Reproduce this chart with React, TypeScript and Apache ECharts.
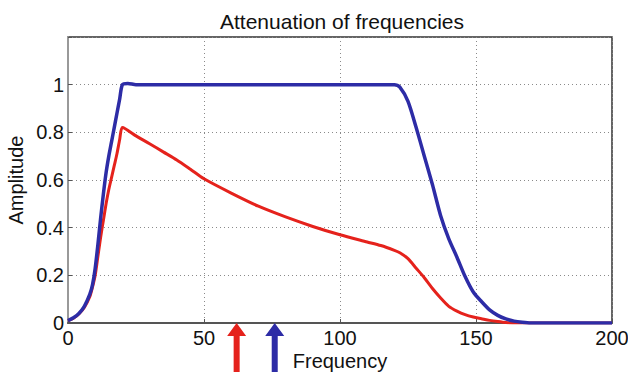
import React, { useEffect, useRef } from "react";
import * as echarts from "echarts";

const titleText = "Attenuation of frequencies";
const xName = "Frequency";
const yName = "Amplitude";

const xTicks = [0, 50, 100, 150, 200];
const yTicks = [0, 0.2, 0.4, 0.6, 0.8, 1];

const freqBlue = [0, 2, 4, 6, 8, 9, 10, 11, 12, 13, 14, 15, 16, 17, 18, 19, 20, 22, 25, 30, 40, 60, 80, 100, 115, 120, 122, 125, 128, 131, 134, 137, 140, 143, 146, 149, 152, 155, 158, 161, 164, 167, 170, 180, 200];
const ampBlue = [0.01, 0.022, 0.04, 0.07, 0.12, 0.16, 0.23, 0.33, 0.44, 0.54, 0.63, 0.7, 0.76, 0.82, 0.88, 0.94, 1.0, 1.005, 1.0, 1.0, 1.0, 1.0, 1.0, 1.0, 1.0, 1.0, 0.99, 0.93, 0.82, 0.7, 0.58, 0.45, 0.353, 0.276, 0.195, 0.13, 0.09, 0.055, 0.032, 0.017, 0.008, 0.003, 0, 0, 0];

const freqRed = [0, 2, 4, 6, 8, 9, 10, 11, 12, 13, 14, 15, 16, 17, 18, 19, 20, 25, 30, 35, 40, 45, 50, 60, 70, 80, 90, 100, 110, 115, 120, 122, 125, 128, 131, 134, 137, 140, 143, 146, 149, 152, 155, 158, 161, 165, 180, 200];
const ampRed = [0.01, 0.02, 0.038, 0.065, 0.11, 0.15, 0.2, 0.28, 0.36, 0.43, 0.5, 0.56, 0.61, 0.66, 0.71, 0.77, 0.82, 0.785, 0.752, 0.718, 0.684, 0.645, 0.605, 0.545, 0.49, 0.445, 0.405, 0.37, 0.34, 0.325, 0.305, 0.295, 0.27, 0.23, 0.19, 0.145, 0.105, 0.07, 0.05, 0.035, 0.025, 0.018, 0.011, 0.006, 0.002, 0, 0, 0];

const redArrowFreq = [62];
const blueArrowFreq = [76];

const BLUE = "#2d2ca6";
const RED = "#e5221c";
const FONT = "Liberation Sans, Arial, sans-serif";

function arrowRender(params: any, api: any) {
  const p = api.coord([api.value(0), 0]);
  const x = p[0];
  const y = p[1];
  const hw = 9.5;
  const hh = 13;
  const sw = 3;
  const bottom = 380;
  return {
    type: "polygon",
    shape: {
      points: [
        [x, y],
        [x - hw, y + hh],
        [x - sw, y + hh],
        [x - sw, bottom],
        [x + sw, bottom],
        [x + sw, y + hh],
        [x + hw, y + hh],
      ],
    },
    style: { fill: api.visual("color") },
  };
}

export default function App() {
  const ref = useRef<HTMLDivElement>(null);
  useEffect(() => {
    if (!ref.current) return;
    const chart = echarts.init(ref.current, null, { renderer: "svg" });
    const blueData = freqBlue.map((f, i) => [f, ampBlue[i]]);
    const redData = freqRed.map((f, i) => [f, ampRed[i]]);
    chart.setOption({
      animation: false,
      backgroundColor: "#ffffff",
      title: {
        text: titleText,
        left: 337,
        textAlign: "center",
        top: 6,
        textStyle: { fontFamily: FONT, fontSize: 21, fontWeight: "normal", color: "#111" },
      },
      grid: {
        left: 68,
        right: 16,
        top: 37,
        bottom: 49,
        outerBoundsMode: "none",
        containLabel: false,
        show: true,
        borderColor: "#333",
        borderWidth: 1.5,
        backgroundColor: "transparent",
      },
      xAxis: {
        type: "value",
        min: xTicks[0],
        max: xTicks[xTicks.length - 1],
        interval: 50,
        name: xName,
        nameLocation: "middle",
        nameGap: 28,
        nameMoveOverlap: false,
        nameTextStyle: { fontFamily: FONT, fontSize: 20, color: "#111" },
        axisLine: { show: true, onZero: false, lineStyle: { color: "#555", width: 2 } },
        axisTick: { show: true, inside: true, length: 4, lineStyle: { color: "#555" } },
        axisLabel: { fontFamily: FONT, fontSize: 20, color: "#111", margin: 5 },
        splitLine: { show: true, lineStyle: { color: "#8a8a8a", type: [1, 3], width: 1 } },
      },
      yAxis: {
        type: "value",
        min: 0,
        max: 1.2,
        interval: 0.2,
        name: yName,
        nameLocation: "middle",
        nameGap: 42,
        nameMoveOverlap: false,
        nameRotate: 90,
        nameTextStyle: { fontFamily: FONT, fontSize: 20, color: "#111" },
        axisLine: { show: true, lineStyle: { color: "#999", width: 2 } },
        axisTick: { show: true, inside: true, length: 4, lineStyle: { color: "#555" } },
        axisLabel: {
          fontFamily: FONT,
          fontSize: 20,
          color: "#111",
          margin: 4,
          formatter: (v: number) => {
            const r = Math.round(v * 10) / 10;
            return yTicks.some((t) => Math.abs(t - r) < 1e-6) ? String(r) : "";
          },
        },
        splitLine: { show: true, lineStyle: { color: "#8a8a8a", type: [1, 3], width: 1 } },
      },
      series: [
        {
          type: "line",
          data: redData,
          showSymbol: false,
          smooth: 0.25,
          lineStyle: { color: RED, width: 3 },
          itemStyle: { color: RED },
          z: 3,
        },
        {
          type: "line",
          data: blueData,
          showSymbol: false,
          smooth: 0.25,
          lineStyle: { color: BLUE, width: 3.5 },
          itemStyle: { color: BLUE },
          z: 4,
        },
        {
          type: "custom",
          coordinateSystem: "cartesian2d",
          data: redArrowFreq.map((f) => [f, 0]),
          renderItem: arrowRender,
          itemStyle: { color: RED },
          clip: false,
          silent: true,
          z: 10,
        },
        {
          type: "custom",
          coordinateSystem: "cartesian2d",
          data: blueArrowFreq.map((f) => [f, 0]),
          renderItem: arrowRender,
          itemStyle: { color: BLUE },
          clip: false,
          silent: true,
          z: 10,
        },
      ],
    });
    return () => chart.dispose();
  }, []);
  return (
    <div
      ref={ref}
      style={{ position: "fixed", left: 0, top: 0, width: 628, height: 372, background: "#fff" }}
    />
  );
}
